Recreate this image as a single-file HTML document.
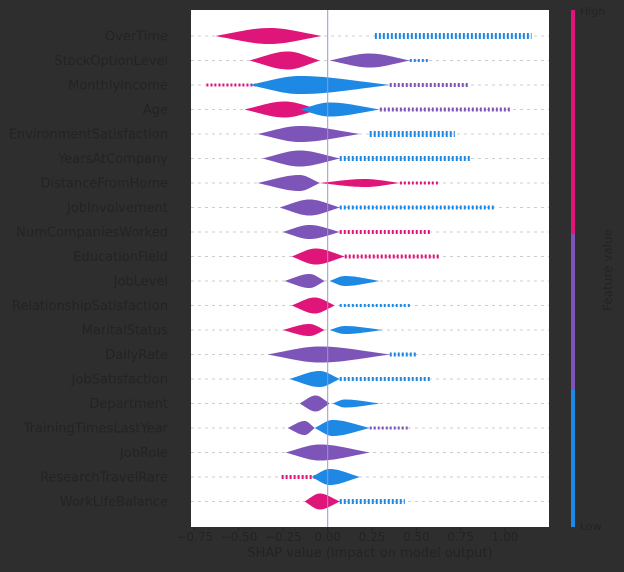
<!DOCTYPE html>
<html><head><meta charset="utf-8"><style>
body{margin:0;background:#2e2e2e;width:624px;height:568px;overflow:hidden;font-family:"DejaVu Sans","Liberation Sans",sans-serif}
svg text{fill:#232323}
</style></head><body>
<svg id="chart" width="624" height="568" xmlns="http://www.w3.org/2000/svg">
<rect x="191" y="10" width="358" height="517" fill="#fff"/>
<g id="grid"></g><g id="marks"></g><g id="ylab"></g><g id="xax"></g>
<text x="370" y="557" font-size="13" text-anchor="middle">SHAP value (impact on model output)</text>
<rect x="571" y="10" width="4" height="224" fill="#e0157a"/>
<rect x="571" y="234" width="4" height="156" fill="#7d55b8"/>
<rect x="571" y="390" width="4" height="137" fill="#1e88e5"/>
<text x="580" y="15" font-size="11">High</text>
<text x="580" y="530" font-size="11">Low</text>
<text x="0" y="0" font-size="12" text-anchor="middle" transform="translate(612,270) rotate(-90)">Feature value</text>
</svg>
<script>
const features=["OverTime","StockOptionLevel","MonthlyIncome","Age","EnvironmentSatisfaction","YearsAtCompany","DistanceFromHome","JobInvolvement","NumCompaniesWorked","EducationField","JobLevel","RelationshipSatisfaction","MaritalStatus","DailyRate","JobSatisfaction","Department","TrainingTimesLastYear","JobRole","ResearchTravelRare","WorkLifeBalance"];
// violins: [row, lo, peak, hi, halfWidthPx, colorKey]
const violins=[[0,-0.634,-0.328,-0.034,8,"p"],[1,-0.441,-0.226,-0.045,9,"p"],[1,0.011,0.237,0.463,7,"m"],[2,-0.441,-0.158,0.35,9,"b"],[3,-0.469,-0.243,-0.045,8,"p"],[3,-0.158,0.011,0.294,7,"b"],[4,-0.395,-0.158,0.181,8,"m"],[5,-0.367,-0.158,0.068,8,"m"],[6,-0.395,-0.158,-0.045,8,"m"],[6,-0.045,0.209,0.407,4,"p"],[7,-0.271,-0.102,0.068,8,"m"],[8,-0.254,-0.102,0.068,7,"m"],[9,-0.203,-0.068,0.096,8,"p"],[10,-0.243,-0.102,-0.017,7,"m"],[10,0.011,0.096,0.294,5,"b"],[11,-0.203,-0.073,0.04,8,"p"],[12,-0.254,-0.102,-0.017,6,"p"],[12,0.011,0.096,0.311,4,"b"],[13,-0.339,-0.045,0.35,8,"m"],[14,-0.215,-0.045,0.068,8,"b"],[15,-0.158,-0.068,0.011,8,"m"],[15,0.028,0.096,0.294,4,"b"],[16,-0.226,-0.13,-0.073,7,"m"],[16,-0.073,0.028,0.237,8,"b"],[17,-0.237,-0.045,0.237,8,"m"],[18,-0.09,0.011,0.181,8,"b"],[19,-0.13,-0.045,0.068,8,"p"]];
// tails: [row, lo, hi, thicknessPx, colorKey]
const tails=[[0,0.266,1.15,3,"b"],[1,0.463,0.576,1.5,"b"],[2,-0.684,-0.384,1.5,"p"],[2,0.35,0.8,2,"m"],[3,0.294,1.03,2,"m"],[4,0.237,0.717,3,"b"],[5,0.068,0.802,2.5,"b"],[6,0.407,0.633,1.5,"p"],[7,0.068,0.94,2,"b"],[8,0.068,0.576,2,"p"],[9,0.096,0.633,2,"p"],[11,0.068,0.463,1.5,"b"],[13,0.35,0.5,2,"b"],[14,0.068,0.577,2,"b"],[16,0.237,0.463,1.5,"m"],[18,-0.26,-0.073,2,"p"],[19,0.068,0.435,2.5,"b"]];
const ticks=[-0.75,-0.5,-0.25,0,0.25,0.5,0.75,1.0];
const tickLabels=["\u22120.75","\u22120.50","\u22120.25","0.00","0.25","0.50","0.75","1.00"];
const colors={p:"#e0157a",m:"#7d55b8",b:"#1e88e5"};
const NS="http://www.w3.org/2000/svg";
const X=v=>327.7+v*177.3;
const Y=i=>36+i*24.5;
function mk(t,a,p){const e=document.createElementNS(NS,t);for(const k in a)e.setAttribute(k,a[k]);p.appendChild(e);return e;}
const grid=document.getElementById('grid'),marks=document.getElementById('marks'),yl=document.getElementById('ylab'),xa=document.getElementById('xax');
features.forEach((f,i)=>{
 const g=mk('line',{x1:191,x2:549,y1:Y(i),y2:Y(i),stroke:'#ccc','stroke-dasharray':'3,4','stroke-width':1},grid);
 
 
 const t=mk('text',{x:168,y:Y(i)+4.5,'font-size':13,'text-anchor':'end'},yl);t.textContent=f;
 
 
});
tails.forEach(d=>{
 const l=mk('line',{x1:X(d[1]),x2:X(d[2]),y1:Y(d[0]),y2:Y(d[0]),stroke:colors[d[4]],'stroke-width':d[3]*2,'stroke-dasharray':'2,2'},marks);
 
 
});
violins.forEach(d=>{
 const y=Y(d[0]),a=X(d[1]),p=X(d[2]),b=X(d[3]),w=d[4];
 const path=`M${a},${y} C${a+(p-a)*0.5},${y-w*0.6} ${p-(p-a)*0.3},${y-w} ${p},${y-w} C${p+(b-p)*0.3},${y-w} ${b-(b-p)*0.5},${y-w*0.6} ${b},${y} C${b-(b-p)*0.5},${y+w*0.6} ${p+(b-p)*0.3},${y+w} ${p},${y+w} C${p-(p-a)*0.3},${y+w} ${a+(p-a)*0.5},${y+w*0.6} ${a},${y}Z`;
 const e=mk('path',{d:path,fill:colors[d[5]]},marks);
 
 
});
const z=mk('line',{x1:X(0),x2:X(0),y1:10,y2:527,stroke:'#9a98cc','stroke-width':1},marks);


ticks.forEach((v,i)=>{
 const tk=mk('line',{x1:X(v),x2:X(v),y1:527,y2:531,stroke:'#232323'},xa);
 
 
 const t=mk('text',{x:X(v),y:541,'font-size':12,'text-anchor':'middle'},xa);t.textContent=tickLabels[i];
 
 
});
</script>
</body></html>
